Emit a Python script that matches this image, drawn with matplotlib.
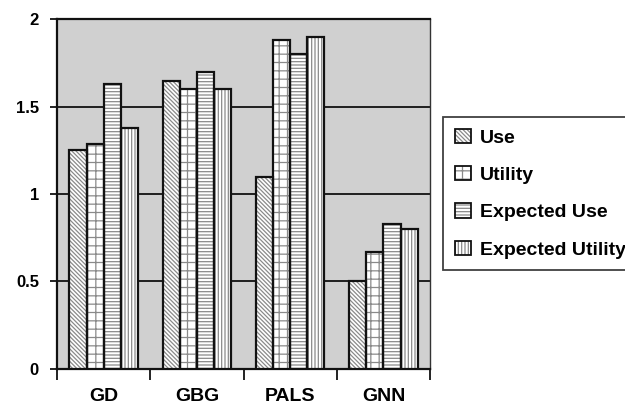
import matplotlib
matplotlib.use('Agg')
import matplotlib.pyplot as plt
import numpy as np
from matplotlib.patches import Patch

plt.rcParams['font.family'] = ['Liberation Sans', 'DejaVu Sans']
plt.rcParams['font.weight'] = 'bold'
plt.rcParams['hatch.linewidth'] = 0.9

# data
categories = ['GD', 'GBG', 'PALS', 'GNN']
series = ['Use', 'Utility', 'Expected Use', 'Expected Utility']
use = [1.25, 1.645, 1.1, 0.5]
utility = [1.285, 1.6, 1.88, 0.67]
expected_use = [1.63, 1.70, 1.80, 0.83]
expected_utility = [1.38, 1.60, 1.90, 0.80]
values = [use, utility, expected_use, expected_utility]

hatches = ['\\' * 8, '++', '-' * 5, '|' * 5]
hatch_col = '#8a8a8a'

fig = plt.figure(figsize=(6.25, 4.08), dpi=100)
ax = fig.add_axes([0.0912, 0.0956, 0.597, 0.8578])
ax.set_facecolor('#d0d0d0')

x = np.arange(len(categories))
w = 0.183
handles = []
for i, (name, vals) in enumerate(zip(series, values)):
    pos = x + (i - 1.5) * w
    ax.bar(pos, vals, w, color='white', edgecolor=hatch_col, hatch=hatches[i],
           linewidth=0, zorder=3)
    ax.bar(pos, vals, w, fill=False, edgecolor='#111111', linewidth=1.6, zorder=4)
    h1 = Patch(facecolor='white', edgecolor=hatch_col, hatch=hatches[i], linewidth=0)
    h2 = Patch(fill=False, edgecolor='#111111', linewidth=1.3)
    handles.append((h1, h2))

ax.set_xlim(-0.5, 3.5)
ax.set_ylim(0, 2)
ax.set_yticks([0, 0.5, 1, 1.5, 2])
ax.set_yticklabels(['0', '0.5', '1', '1.5', '2'], fontsize=12, fontweight='bold')
ax.yaxis.grid(True, color='#111111', linewidth=1.3, zorder=1)
ax.set_axisbelow(True)

# category boundary ticks, labels at centres
ax.set_xticks(np.arange(-0.5, 4.0, 1.0))
ax.set_xticklabels([])
ax.set_xticks(x, minor=True)
ax.set_xticklabels(categories, minor=True, fontsize=14, fontweight='bold')
ax.tick_params(axis='x', which='major', length=8, width=1.3, color='#111111')
ax.tick_params(axis='x', which='minor', length=0, pad=14)
ax.tick_params(axis='y', length=5, width=1.3, color='#111111', pad=8)

for s in ['left', 'bottom', 'top']:
    ax.spines[s].set_linewidth(1.6)
    ax.spines[s].set_color('#111111')
ax.spines['right'].set_linewidth(1.0)
ax.spines['right'].set_color('#333333')

leg = fig.legend(handles, series, loc='upper left', bbox_to_anchor=(0.7088, 0.7132),
                 frameon=True, fancybox=False, borderpad=0.6,
                 labelspacing=1.0, handlelength=0.85, handleheight=0.75,
                 handletextpad=0.45, borderaxespad=0,
                 prop={'weight': 'bold', 'size': 14})
leg.get_frame().set_edgecolor('#111111')
leg.get_frame().set_linewidth(1.3)

fig.savefig('out.png', dpi=100)
